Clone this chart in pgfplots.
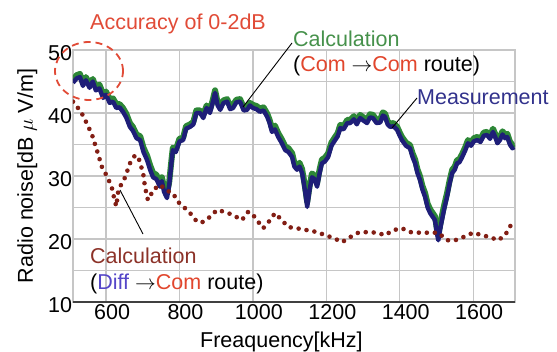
\documentclass[border=0pt]{standalone}
\usepackage{fontspec}
\setmainfont{Liberation Sans}
\usepackage{pgfplots}
\pgfplotsset{compat=1.18}
\usepackage{pgfplotstable}
\definecolor{navyc}{RGB}{30,30,120}
\definecolor{greenc}{RGB}{45,135,55}
\definecolor{dotc}{RGB}{130,30,20}
\definecolor{accred}{RGB}{225,75,55}
\definecolor{comred}{RGB}{225,70,45}
\definecolor{diffblue}{RGB}{85,70,200}
\definecolor{meascol}{RGB}{50,50,140}
\definecolor{calcgreen}{RGB}{70,145,75}
\definecolor{diffcol}{RGB}{140,50,40}

\pgfplotstableread{
x y
510 44.8
520 45.5
529 45.7
537 44.3
545 45.2
555 44.0
564 45.0
572 43.6
582 43.9
592 42.4
600 42.9
610 41.6
619 41.8
628 40.8
637 40.9
646 40.2
655 39.3
665 37.8
673 37.2
683 36.0
693 35.7
702 33.8
712 32.5
720 31.0
728 29.8
737 29.5
747 28.3
752 29.2
758 27.5
766 26.5
772 28.5
778 32.0
782 34.1
790 33.8
800 35.5
810 35.7
818 37.5
829 37.8
838 38.2
846 40.0
856 40.0
865 39.2
874 40.8
883 40.0
890 41.5
897 43.2
904 41.2
911 40.5
920 41.6
930 41.8
938 40.6
946 40.8
955 41.7
965 41.8
975 40.4
984 40.5
992 41.2
1000 40.8
1010 40.6
1019 40.2
1029 40.4
1039 39.4
1045 38.5
1052 37.0
1060 37.4
1069 36.2
1078 35.3
1088 34.1
1097 33.8
1107 33.0
1113 31.5
1120 31.0
1127 31.5
1134 30.5
1141 28.0
1148 25.1
1155 28.0
1161 29.8
1168 29.5
1175 28.3
1182 30.5
1188 32.0
1196 32.3
1205 33.0
1214 34.8
1224 35.7
1231 36.3
1238 37.6
1247 37.4
1257 38.4
1265 38.4
1275 39.0
1283 38.2
1292 39.2
1301 38.8
1311 38.4
1319 39.3
1327 39.2
1337 38.4
1347 38.5
1354 39.6
1360 39.4
1367 38.2
1374 37.8
1383 37.9
1393 37.3
1400 36.4
1406 35.7
1417 34.8
1428 34.4
1435 33.0
1442 32.0
1448 30.5
1455 29.4
1462 27.8
1469 26.7
1476 25.0
1483 24.1
1490 23.5
1496 23.0
1501 21.0
1505 19.8
1510 21.5
1515 23.0
1522 25.0
1529 26.7
1536 28.8
1543 30.5
1550 31.0
1556 32.0
1563 32.2
1570 33.0
1578 34.0
1586 35.2
1594 34.8
1602 35.5
1611 35.7
1620 35.4
1629 36.4
1638 36.5
1646 35.9
1654 37.0
1660 36.2
1666 35.2
1673 35.7
1680 36.6
1687 36.0
1693 36.2
1700 35.0
1707 34.4
1712 34.6
}\meas

\pgfplotstableread{
x y
510 45.3
520 46.0
529 46.2
537 44.8
545 45.7
555 44.6
564 45.4
572 44.1
582 44.5
592 43.0
600 43.4
610 42.2
619 42.3
628 41.4
637 41.4
646 40.8
655 39.9
665 38.4
673 37.8
683 36.6
693 36.3
702 34.5
712 33.2
720 31.7
728 30.5
737 30.2
747 29.0
752 29.8
758 28.3
766 27.4
772 29.0
778 32.4
782 34.5
790 34.2
800 35.9
810 36.1
818 37.9
829 38.2
838 38.6
846 40.4
856 40.4
865 39.7
874 41.2
883 40.5
890 41.9
897 43.6
904 41.7
911 41.0
920 42.0
930 42.2
938 41.1
946 41.3
955 42.1
965 42.2
975 40.9
984 41.0
992 41.6
1000 41.3
1010 41.1
1019 40.7
1029 40.9
1039 39.9
1045 39.0
1052 37.6
1060 38.0
1069 36.8
1078 35.9
1088 34.7
1097 34.4
1107 33.6
1113 32.1
1120 31.6
1127 32.1
1134 31.1
1141 28.7
1148 25.9
1155 28.6
1161 30.4
1168 30.1
1175 28.9
1182 31.1
1188 32.6
1196 32.9
1205 33.6
1214 35.3
1224 36.2
1231 36.8
1238 38.1
1247 37.9
1257 38.9
1265 38.9
1275 39.5
1283 38.7
1292 39.7
1301 39.3
1311 38.9
1319 39.8
1327 39.7
1337 38.9
1347 39.0
1354 40.1
1360 39.9
1367 38.7
1374 38.3
1383 38.4
1393 37.8
1400 36.9
1406 36.2
1417 35.3
1428 34.9
1435 33.6
1442 32.6
1448 31.1
1455 30.0
1462 28.4
1469 27.3
1476 25.6
1483 24.7
1490 24.1
1496 23.6
1501 21.7
1505 20.6
1510 22.2
1515 23.7
1522 25.6
1529 27.3
1536 29.3
1543 31.0
1550 31.5
1556 32.5
1563 32.7
1570 33.5
1578 34.5
1586 35.7
1594 35.3
1602 36.0
1611 36.2
1620 35.9
1629 36.9
1638 37.0
1646 36.4
1654 37.5
1660 36.7
1666 35.7
1673 36.2
1680 37.1
1687 36.5
1693 36.7
1700 35.5
1707 34.9
1712 35.1
}\calc

\pgfplotstableread{
x y
510 41.8
520 41.0
529 40.5
543 38.9
552 37.8
562 36.5
575 34.1
589 31.4
605 29.7
616 28.1
624 26.0
628 25.2
633 27.5
638 28.3
645 29.0
652 29.8
665 32.0
679 33.3
688 33.0
693 32.0
701 30.5
706 28.3
714 26.2
722 27.0
728 27.8
738 28.2
747 28.6
760 28.0
772 27.5
782 27.3
796 25.9
815 24.9
834 23.8
848 22.7
864 22.7
883 23.5
902 24.6
924 24.3
946 23.8
970 23.0
987 24.3
997 24.1
1011 23.0
1028 21.7
1047 23.0
1060 24.1
1079 23.0
1096 21.9
1120 21.7
1148 21.4
1175 21.1
1197 20.6
1218 20.2
1243 19.5
1265 20.3
1287 21.0
1311 21.1
1338 21.0
1360 20.6
1382 21.4
1406 21.7
1428 21.1
1455 21.0
1477 21.0
1505 21.0
1529 19.8
1551 19.8
1573 20.3
1600 21.0
1624 20.6
1646 20.3
1668 19.8
1687 20.6
1700 21.9
1709 23.0
}\diff

\begin{document}
\begin{tikzpicture}[font=\fontsize{21.5}{24}\selectfont]
\begin{axis}[
  scale only axis, width=442pt, height=252pt,
  at={(0,0)}, anchor=south west,
  xmin=510, xmax=1714, ymin=10, ymax=50,
  xtick={600,800,...,1600}, ytick={10,20,...,50},
  minor ytick={15,25,35,45},
  grid=both,
  major grid style={draw=gray!45, line width=1.3pt},
  minor grid style={draw=gray!45, line width=1.3pt},
  axis line style={draw=gray!45, line width=1.3pt},
  major tick length=0pt, minor tick length=0pt,
  tick label style={font=\fontsize{21.5}{24}\selectfont},
  /pgf/number format/assume math mode=true,
  /pgf/number format/1000 sep={},
  xticklabel style={xshift=6pt, yshift=1pt},
  yticklabel style={xshift=2.5pt, yshift=-3pt},
]
\addplot[greenc, line width=6pt, line join=round, no marks] table {\calc};
\addplot[navyc, line width=4.4pt, line join=round, no marks] table {\meas};
\addplot[dotc, line width=4.6pt, line cap=round, dash pattern=on 0pt off 8pt, no marks] table {\diff};
\draw[draw=black!75, line width=2pt] (rel axis cs:0,0) -- (rel axis cs:1,0);
\end{axis}
\node[anchor=base west, inner sep=0, text=accred] at (17pt,272pt) {Accuracy of 0-2dB};
\draw[accred, line width=1.8pt, dash pattern=on 7pt off 5pt] (16pt,231pt) ellipse [x radius=34pt, y radius=29pt];
\node[anchor=base west, inner sep=0, text=calcgreen] at (220pt,255pt) {Calculation};
\node[anchor=base west, inner sep=0] at (220pt,230pt) {(\textcolor{comred}{Com} $\rightarrow$\textcolor{comred}{Com} route)};
\node[anchor=base west, inner sep=0, text=meascol] at (344pt,197pt) {Measurement};
\node[anchor=base west, inner sep=0, text=diffcol] at (17pt,38pt) {Calculation};
\node[anchor=base west, inner sep=0] at (17pt,13pt) {(\textcolor{diffblue}{Diff} $\rightarrow$\textcolor{comred}{Com} route)};
\node[anchor=base west, inner sep=0] at (127pt,-45pt) {Freaquency[kHz]};
\node[anchor=base, rotate=90, inner sep=0] at (-40pt,126pt) {Radio noise[dB $\mu$ V/m]};
\draw[black, line width=0.9pt] (219pt,259pt) -- (170pt,195pt);
\draw[black, line width=0.9pt] (344pt,204pt) -- (319pt,174pt);
\draw[black, line width=0.9pt] (47pt,112pt) -- (70pt,68pt);
\pgfresetboundingbox
\path (-73pt,-49pt) rectangle (484pt,302pt);
\end{tikzpicture}
\end{document}
